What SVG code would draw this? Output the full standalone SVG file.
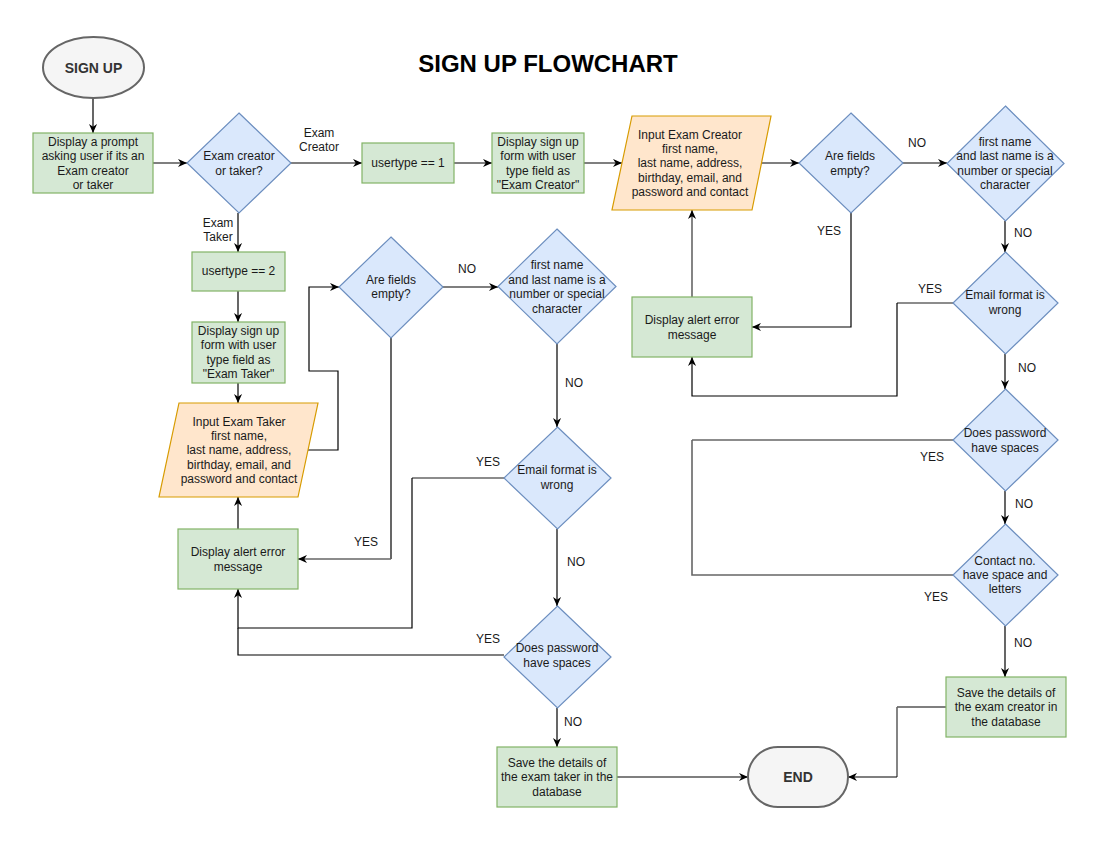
<svg xmlns="http://www.w3.org/2000/svg" width="1100" height="850" viewBox="0 0 1100 850">
  <style>
    .proc { fill: #d5e8d4; stroke: #82b366; stroke-width: 1.2; }
    .dec { fill: #dae8fc; stroke: #6c8ebf; stroke-width: 1.2; }
    .io { fill: #ffe6cc; stroke: #d79b00; stroke-width: 1.2; }
    .term { fill: #f5f5f5; stroke: #666666; stroke-width: 2; }
    .t { font-family: "Liberation Sans", Arial, sans-serif; font-size: 12px; fill: #1a1a1a; text-anchor: middle; }
    .tb { font-family: "Liberation Sans", Arial, sans-serif; font-size: 14px; font-weight: bold; fill: #333333; text-anchor: middle; }
    .title { font-family: "Liberation Sans", Arial, sans-serif; font-size: 24px; font-weight: bold; fill: #000000; text-anchor: middle; }
    .e { fill: none; stroke: #000000; stroke-width: 1.2; }
    .g { fill: none; stroke: #666666; stroke-width: 1.6; }
  </style>
  <defs>
    <marker id="arrow" viewBox="0 0 10 10" refX="10" refY="5" markerWidth="9" markerHeight="9" markerUnits="userSpaceOnUse" orient="auto">
      <path d="M0,0.5 L10,5 L0,9.5 L3,5 Z" fill="#000000"/>
    </marker>
  </defs>

  <rect width="1100" height="850" fill="#ffffff"/>

  <text class="title" x="548" y="72">SIGN UP FLOWCHART</text>

  <!-- connectors -->
  <g id="connectors">
    <path class="e" d="M93,98 V133" marker-end="url(#arrow)"/>
    <path class="e" d="M153,163 H187" marker-end="url(#arrow)"/>
    <path class="e" d="M291,163 H362" marker-end="url(#arrow)"/>
    <path class="e" d="M454,163 H492" marker-end="url(#arrow)"/>
    <path class="e" d="M584,163 H622" marker-end="url(#arrow)"/>
    <path class="e" d="M762,163 H799" marker-end="url(#arrow)"/>
    <path class="e" d="M903,163 H947" marker-end="url(#arrow)"/>
    <path class="e" d="M1005,221 V252" marker-end="url(#arrow)"/>
    <path class="e" d="M851,213 V327 H752" marker-end="url(#arrow)"/>
    <path class="g" d="M692,297 V210" marker-end="url(#arrow)"/>
    <path class="g" d="M953,303 H897"/>
    <path class="e" d="M897,303 V396 H692 V357" marker-end="url(#arrow)"/>
    <path class="e" d="M1005,354 V389" marker-end="url(#arrow)"/>
    <path class="g" d="M953,440 H692"/>
    <path class="e" d="M1005,491 V524" marker-end="url(#arrow)"/>
    <path class="g" d="M953,575 H692 V440"/>
    <path class="e" d="M1005,626 V677" marker-end="url(#arrow)"/>
    <path class="e" d="M946,707 H897"/>
    <path class="g" d="M897,707 V777"/>
    <path class="e" d="M897,777 H848" marker-end="url(#arrow)"/>
    <path class="e" d="M617,777 H748" marker-end="url(#arrow)"/>

    <path class="e" d="M238,213 V252" marker-end="url(#arrow)"/>
    <path class="e" d="M238,291 V322" marker-end="url(#arrow)"/>
    <path class="e" d="M238,383 V403" marker-end="url(#arrow)"/>
    <path class="e" d="M308,450 H338 V371 H309 V287 H339" marker-end="url(#arrow)"/>
    <path class="e" d="M443,287 H498" marker-end="url(#arrow)"/>
    <path class="e" d="M557,344 V427" marker-end="url(#arrow)"/>
    <path class="e" d="M391,338 V559"/>
    <path class="g" d="M391,559 H298" marker-end="url(#arrow)"/>
    <path class="g" d="M504,478 H412"/>
    <path class="e" d="M412,478 V628 H238 V589" marker-end="url(#arrow)"/>
    <path class="e" d="M557,529 V606" marker-end="url(#arrow)"/>
    <path class="e" d="M504,655 H238 V628"/>
    <path class="e" d="M557,708 V747" marker-end="url(#arrow)"/>
    <path class="e" d="M238,529 V497" marker-end="url(#arrow)"/>

    <!-- edge labels -->
    <text class="t"><tspan x="319" y="137">Exam</tspan><tspan x="319" y="151">Creator</tspan></text>
    <text class="t"><tspan x="218" y="227">Exam</tspan><tspan x="218" y="241">Taker</tspan></text>
    <text class="t" x="917" y="147">NO</text>
    <text class="t" x="829" y="235">YES</text>
    <text class="t" x="1023" y="237">NO</text>
    <text class="t" x="930" y="293">YES</text>
    <text class="t" x="1027" y="372">NO</text>
    <text class="t" x="932" y="461">YES</text>
    <text class="t" x="1024" y="508">NO</text>
    <text class="t" x="936" y="601">YES</text>
    <text class="t" x="1023" y="647">NO</text>
    <text class="t" x="467" y="273">NO</text>
    <text class="t" x="574" y="387">NO</text>
    <text class="t" x="488" y="466">YES</text>
    <text class="t" x="366" y="546">YES</text>
    <text class="t" x="576" y="566">NO</text>
    <text class="t" x="488" y="643">YES</text>
    <text class="t" x="573" y="726">NO</text>
  </g>

  <!-- nodes -->
  <g id="start">
    <ellipse class="term" cx="93.5" cy="67.5" rx="50.5" ry="30.5"/>
    <text class="tb" x="93.5" y="72.5">SIGN UP</text>
  </g>
  <g id="prompt">
    <rect class="proc" x="33" y="133" width="120" height="60"/>
    <text class="t"><tspan x="93" y="146">Display a prompt</tspan><tspan x="93" y="160">asking user if its an</tspan><tspan x="93" y="175">Exam creator</tspan><tspan x="93" y="189">or taker</tspan></text>
  </g>
  <g id="choose-type">
    <polygon class="dec" points="239,113 291,163 239,213 187,163"/>
    <text class="t"><tspan x="239" y="160">Exam creator</tspan><tspan x="239" y="175">or taker?</tspan></text>
  </g>

  <!-- exam creator branch -->
  <g id="usertype1">
    <rect class="proc" x="362" y="143" width="92" height="40"/>
    <text class="t" x="408" y="167">usertype == 1</text>
  </g>
  <g id="form-creator">
    <rect class="proc" x="492" y="133" width="92" height="60"/>
    <text class="t"><tspan x="538" y="146">Display sign up</tspan><tspan x="538" y="160">form with user</tspan><tspan x="538" y="175">type field as</tspan><tspan x="538" y="189">"Exam Creator"</tspan></text>
  </g>
  <g id="input-creator">
    <polygon class="io" points="632,116 771,116 752,210 612,210"/>
    <text class="t"><tspan x="690" y="139">Input Exam Creator</tspan><tspan x="690" y="153">first name,</tspan><tspan x="690" y="167">last name, address,</tspan><tspan x="690" y="182">birthday, email, and</tspan><tspan x="690" y="196">password and contact</tspan></text>
  </g>
  <g id="empty-creator">
    <polygon class="dec" points="851,113 903,163 851,213 799,163"/>
    <text class="t"><tspan x="850" y="160">Are fields</tspan><tspan x="850" y="175">empty?</tspan></text>
  </g>
  <g id="name-creator">
    <polygon class="dec" points="1005.5,106 1064,163.5 1005.5,221 947,163.5"/>
    <text class="t"><tspan x="1005" y="146">first name</tspan><tspan x="1005" y="160">and last name is a</tspan><tspan x="1005" y="175">number or special</tspan><tspan x="1005" y="189">character</tspan></text>
  </g>
  <g id="alert-creator">
    <rect class="proc" x="632" y="297" width="120" height="60"/>
    <text class="t"><tspan x="692" y="324">Display alert error</tspan><tspan x="692" y="339">message</tspan></text>
  </g>
  <g id="email-creator">
    <polygon class="dec" points="1005.5,252 1058,303 1005.5,354 953,303"/>
    <text class="t"><tspan x="1005" y="299">Email format is</tspan><tspan x="1005" y="314">wrong</tspan></text>
  </g>
  <g id="password-creator">
    <polygon class="dec" points="1005.5,389 1058,440 1005.5,491 953,440"/>
    <text class="t"><tspan x="1005" y="437">Does password</tspan><tspan x="1005" y="452">have spaces</tspan></text>
  </g>
  <g id="contact-creator">
    <polygon class="dec" points="1005.5,524 1058,575 1005.5,626 953,575"/>
    <text class="t"><tspan x="1005" y="565">Contact no.</tspan><tspan x="1005" y="579">have space and</tspan><tspan x="1005" y="593">letters</tspan></text>
  </g>
  <g id="save-creator">
    <rect class="proc" x="946" y="677" width="120" height="60"/>
    <text class="t"><tspan x="1006" y="697">Save the details of</tspan><tspan x="1006" y="711">the exam creator in</tspan><tspan x="1006" y="726">the database</tspan></text>
  </g>

  <!-- exam taker branch -->
  <g id="usertype2">
    <rect class="proc" x="192" y="252" width="93" height="39"/>
    <text class="t" x="238.5" y="275">usertype == 2</text>
  </g>
  <g id="form-taker">
    <rect class="proc" x="192" y="322" width="93" height="61"/>
    <text class="t"><tspan x="238.5" y="335">Display sign up</tspan><tspan x="238.5" y="349">form with user</tspan><tspan x="238.5" y="364">type field as</tspan><tspan x="238.5" y="378">"Exam Taker"</tspan></text>
  </g>
  <g id="input-taker">
    <polygon class="io" points="179,403 318,403 298,497 159,497"/>
    <text class="t"><tspan x="239" y="426">Input Exam Taker</tspan><tspan x="239" y="440">first name,</tspan><tspan x="239" y="454">last name, address,</tspan><tspan x="239" y="469">birthday, email, and</tspan><tspan x="239" y="483">password and contact</tspan></text>
  </g>
  <g id="empty-taker">
    <polygon class="dec" points="391,237 443,287 391,338 339,287"/>
    <text class="t"><tspan x="391" y="284">Are fields</tspan><tspan x="391" y="298">empty?</tspan></text>
  </g>
  <g id="name-taker">
    <polygon class="dec" points="557,229 616,286.5 557,344 498,286.5"/>
    <text class="t"><tspan x="557" y="269">first name</tspan><tspan x="557" y="284">and last name is a</tspan><tspan x="557" y="298">number or special</tspan><tspan x="557" y="313">character</tspan></text>
  </g>
  <g id="alert-taker">
    <rect class="proc" x="178" y="529" width="120" height="60"/>
    <text class="t"><tspan x="238" y="556">Display alert error</tspan><tspan x="238" y="571">message</tspan></text>
  </g>
  <g id="email-taker">
    <polygon class="dec" points="557.5,427 611,478 557.5,529 504,478"/>
    <text class="t"><tspan x="557" y="474">Email format is</tspan><tspan x="557" y="489">wrong</tspan></text>
  </g>
  <g id="password-taker">
    <polygon class="dec" points="557.5,606 611,657 557.5,708 504,657"/>
    <text class="t"><tspan x="557" y="652">Does password</tspan><tspan x="557" y="667">have spaces</tspan></text>
  </g>
  <g id="save-taker">
    <rect class="proc" x="497" y="747" width="120" height="60"/>
    <text class="t"><tspan x="557" y="767">Save the details of</tspan><tspan x="557" y="781">the exam taker in the</tspan><tspan x="557" y="796">database</tspan></text>
  </g>

  <g id="end">
    <rect class="term" x="748" y="747" width="100" height="60" rx="30" ry="30"/>
    <text class="tb" x="798" y="782">END</text>
  </g>
</svg>
